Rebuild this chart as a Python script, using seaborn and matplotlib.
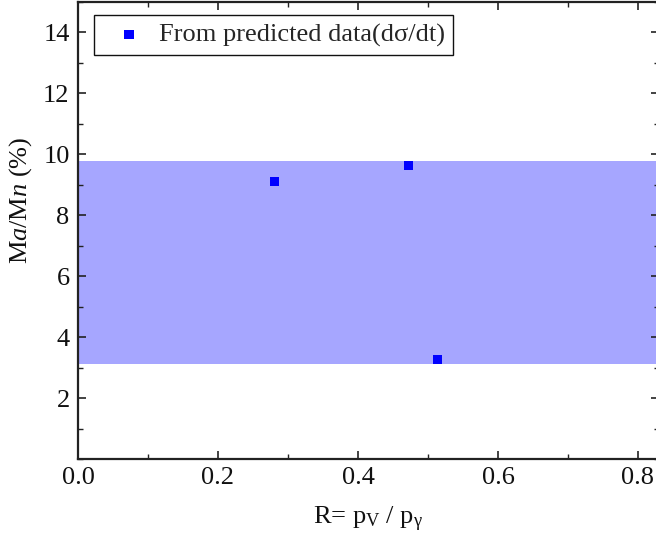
import matplotlib
matplotlib.use("Agg")
import matplotlib.pyplot as plt
from matplotlib.ticker import MultipleLocator
import seaborn as sns
import pandas as pd

# Data
R_values = [0.281, 0.472, 0.514]
ratio_values = [9.10, 9.62, 3.26]
band_low = 3.11
band_high = 9.77
series_label = "From predicted data(d\u03c3/dt)"

sns.set_theme(style="ticks")
plt.rcParams['font.family'] = ['Liberation Serif', 'DejaVu Serif']
plt.rcParams['mathtext.fontset'] = 'custom'
plt.rcParams['mathtext.rm'] = 'Liberation Serif'
plt.rcParams['mathtext.it'] = 'Liberation Serif:italic'

fig = plt.figure(figsize=(6.56, 5.40), dpi=100)
left = 78 / 656
right_px = 659
top = 1 - 2 / 540
bottom = 1 - 459 / 540
ax = fig.add_axes([left, bottom, (right_px - 78) / 656, top - bottom])

ax.axhspan(band_low, band_high, color='#a6a6ff', lw=0, zorder=0)

df = pd.DataFrame({"R": R_values, "M": ratio_values})
sns.scatterplot(data=df, x="R", y="M", ax=ax, marker='s', color='#0000ff',
                s=43, edgecolor='none', label=series_label, zorder=3)

ax.set_xlim(0, (right_px - 78) / 700)
ax.set_ylim(0, 15)
ax.xaxis.set_minor_locator(MultipleLocator(0.1))
ax.yaxis.set_minor_locator(MultipleLocator(1))
ax.set_yticks([2, 4, 6, 8, 10, 12, 14])
ax.set_xticks([0.0, 0.2, 0.4, 0.6, 0.8])
ax.set_xticklabels(["0.0", "0.2", "0.4", "0.6", "0.8"])

ax.tick_params(which='both', direction='in', top=True, right=True, colors='#222222',
               labelsize=19, labelcolor='#111111')
ax.tick_params(which='major', length=6, width=1.2, pad=6)
ax.tick_params(which='minor', length=3.5, width=1.0)
for s in ax.spines.values():
    s.set_linewidth(1.6)
    s.set_color('#222222')

ax.set_xlabel("R= p$_\\mathrm{V}$ / p$_\\mathrm{\u03b3}$", fontsize=19, color='#111111')
ax.xaxis.set_label_coords(0.5, (459 - 505) / 457)
ax.set_ylabel(r"M$\mathit{a}$/M$\mathit{n}$ (%)", fontsize=19, color='#111111')
ax.yaxis.set_label_coords((34 - 78) / 581, (459 - 200) / 457)

leg = ax.legend(loc='upper left', bbox_to_anchor=((94 - 78) / 581, (459 - 15) / 457),
                borderaxespad=0, fontsize=19,
                frameon=True, fancybox=False, edgecolor='#111111',
                handletextpad=0.1, borderpad=0.3, handlelength=2.05, markerscale=1.0)
leg.get_frame().set_linewidth(1.0)
leg.get_frame().set_facecolor('white')
leg.get_frame().set_alpha(1)

fig.savefig("out.png", dpi=100)
